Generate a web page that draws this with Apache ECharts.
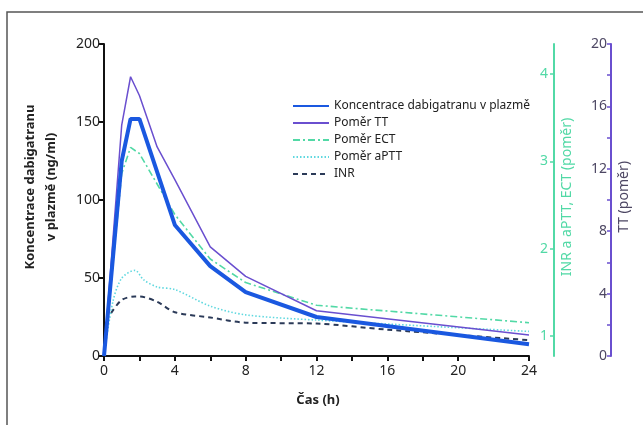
<!DOCTYPE html>
<html>
<head>
<meta charset="utf-8">
<script src="https://cdn.jsdelivr.net/npm/echarts@6/dist/echarts.min.js"></script>
<style>
html,body{margin:0;padding:0;background:#fff;}
#chart{width:643px;height:425px;}
</style>
</head>
<body>
<div id="chart"></div>
<script>
// ---- data (time in hours) ----
const seriesNames = ['Koncentrace dabigatranu v plazmě','Poměr TT','Poměr ECT','Poměr aPTT','INR'];
// plasma concentration (ng/ml), left axis
const concTime   = [0, 1, 1.5, 2, 4, 6, 8, 12, 24];
const concValues = [0, 125, 152, 152, 84, 57.6, 41, 25, 7.5];
// TT ratio, right purple axis (0-20)
const ttTime   = [0, 1, 1.5, 2, 3, 4, 6, 8, 12, 24];
const ttValues = [0, 14.8, 17.9, 16.7, 13.4, 11.3, 7.0, 5.1, 2.9, 1.35];
// ECT ratio, green axis
const ectTime   = [0, 1, 1.5, 2, 4, 6, 8, 12, 24];
const ectValues = [0.77, 2.86, 3.16, 3.09, 2.39, 1.88, 1.61, 1.35, 1.15];
// aPTT ratio, green axis
const apttTime   = [0, 0.5, 1, 1.75, 2.25, 3, 4, 6, 8, 12, 24];
const apttValues = [0.77, 1.39, 1.66, 1.75, 1.64, 1.56, 1.53, 1.34, 1.24, 1.18, 1.05];
// INR, green axis
const inrTime   = [0.4, 1, 1.75, 2, 3, 4, 6, 8, 12, 16, 24];
const inrValues = [1.26, 1.41, 1.45, 1.45, 1.39, 1.27, 1.21, 1.15, 1.14, 1.07, 0.95];
// axis ticks
const xTicks = [0, 4, 8, 12, 16, 20, 24];
const leftTicks = [0, 50, 100, 150, 200];
const greenTicks = [1, 2, 3, 4];
const ttTicks = [0, 4, 8, 12, 16, 20];

const pairs = (t, v) => t.map((x, i) => [x, v[i]]);

const FONT = 'Noto Sans';
const GREEN = '#52d9a6';
const PURPLE = '#6a4fcf';
const BLUE = '#1a58e0';

const chart = echarts.init(document.getElementById('chart'), null, {renderer: 'canvas'});
chart.setOption({
  backgroundColor: '#fff',
  animation: false,
  textStyle: {fontFamily: FONT},
  grid: {left: 104, right: 114, top: 44, bottom: 69, containLabel: false},
  legend: {
    orient: 'vertical', left: 287, top: 94,
    itemWidth: 36, itemHeight: 10, itemGap: 3,
    data: seriesNames,
    itemStyle: {opacity: 0},
    textStyle: {fontFamily: FONT, fontSize: 12, color: '#222', lineHeight: 14},
    selectedMode: false
  },
  xAxis: {
    type: 'value', min: 0, max: 24, interval: 2,
    axisLine: {show: true, lineStyle: {color: '#111', width: 2}},
    axisTick: {show: true, length: 5, lineStyle: {color: '#111', width: 2}},
    axisLabel: {color: '#222', fontSize: 14, margin: 8, fontFamily: FONT,
      formatter: v => xTicks.includes(v) ? String(v) : ''},
    splitLine: {show: false}
  },
  yAxis: [
    {
      type: 'value', min: 0, max: 200, interval: 50, position: 'left',
      axisLine: {show: true, lineStyle: {color: '#111', width: 2}},
      axisTick: {show: true, length: 5, lineStyle: {color: '#111', width: 2}},
      axisLabel: {color: '#222', fontSize: 14, margin: 4, fontFamily: FONT,
        formatter: v => leftTicks.includes(v) ? String(v) : ''},
      splitLine: {show: false}
    },
    {
      type: 'value', min: 0.768, max: 4.346, position: 'right', offset: 25,
      axisLine: {show: true, lineStyle: {color: GREEN, width: 2}},
      axisTick: {show: true, inside: true, length: 4, customValues: greenTicks, lineStyle: {color: GREEN, width: 1.5}},
      axisLabel: {show: true, inside: true, color: GREEN, fontSize: 14, margin: 6, fontFamily: FONT, customValues: greenTicks},
      splitLine: {show: false}
    },
    {
      type: 'value', min: 0, max: 20, interval: 2, position: 'right', offset: 82,
      axisLine: {show: true, lineStyle: {color: PURPLE, width: 2}},
      axisTick: {show: true, inside: true, length: 4, lineStyle: {color: PURPLE, width: 1.5}},
      axisLabel: {show: true, inside: true, color: '#4d4763', fontSize: 14, margin: 4, fontFamily: FONT,
        formatter: v => ttTicks.includes(v) ? String(v) : ''},
      splitLine: {show: false}
    }
  ],
  series: [
    {name: seriesNames[4], type: 'line', yAxisIndex: 1, data: pairs(inrTime, inrValues), smooth: 0.3,
      symbol: 'none', z: 2, lineStyle: {color: '#2b3a58', width: 2, type: [5, 4]}, itemStyle: {color: '#2b3a58'}},
    {name: seriesNames[3], type: 'line', yAxisIndex: 1, data: pairs(apttTime, apttValues), smooth: 0.3,
      symbol: 'none', z: 3, lineStyle: {color: '#5fd8df', width: 1.6, type: [1.5, 2]}, itemStyle: {color: '#5fd8df'}},
    {name: seriesNames[2], type: 'line', yAxisIndex: 1, data: pairs(ectTime, ectValues),
      symbol: 'none', z: 4, lineStyle: {color: GREEN, width: 1.6, type: [7, 3, 2, 3]}, itemStyle: {color: GREEN}},
    {name: seriesNames[1], type: 'line', yAxisIndex: 2, data: pairs(ttTime, ttValues),
      symbol: 'none', z: 5, lineStyle: {color: PURPLE, width: 1.5}, itemStyle: {color: PURPLE}},
    {name: seriesNames[0], type: 'line', yAxisIndex: 0, data: pairs(concTime, concValues),
      symbol: 'none', z: 6, lineStyle: {color: BLUE, width: 4}, itemStyle: {color: BLUE}}
  ],
  graphic: [
    {type: 'rect', silent: true, shape: {x: 7, y: 12, width: 700, height: 500},
      style: {fill: 'none', stroke: '#555', lineWidth: 1.5}},
    {type: 'text', silent: true, x: 41, y: 187, rotation: Math.PI / 2,
      style: {text: 'Koncentrace dabigatranu\nv plazmě (ng/ml)', fontFamily: FONT, fontSize: 13, fontWeight: 'bold',
        fill: '#222', align: 'center', verticalAlign: 'middle', lineHeight: 21}},
    {type: 'text', silent: true, x: 318, y: 400,
      style: {text: 'Čas (h)', fontFamily: FONT, fontSize: 13, fontWeight: 'bold', fill: '#222',
        align: 'center', verticalAlign: 'middle'}},
    {type: 'text', silent: true, x: 567, y: 197, rotation: Math.PI / 2,
      style: {text: 'INR a aPTT, ECT (poměr)', fontFamily: FONT, fontSize: 14, fill: GREEN,
        align: 'center', verticalAlign: 'middle'}},
    {type: 'text', silent: true, x: 624, y: 197, rotation: Math.PI / 2,
      style: {text: 'TT (poměr)', fontFamily: FONT, fontSize: 14, fill: '#4d4763',
        align: 'center', verticalAlign: 'middle'}}
  ]
});
</script>
</body>
</html>
